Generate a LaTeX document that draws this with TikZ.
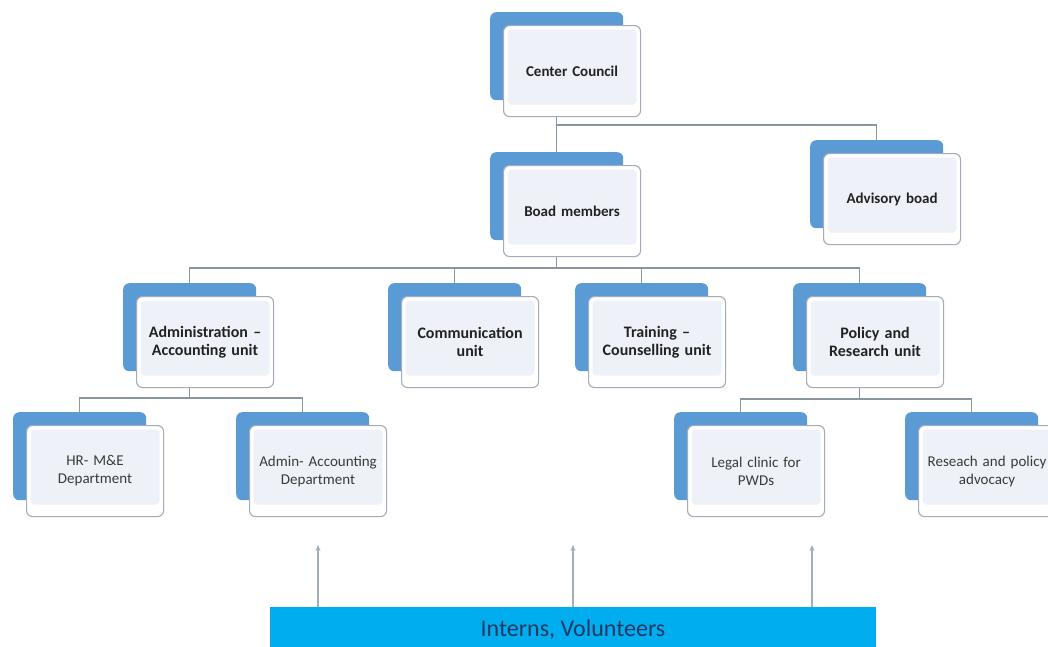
\documentclass[tikz,border=0pt]{standalone}
\usepackage{fontspec}
\setmainfont{Carlito}
\usetikzlibrary{calc,arrows.meta}
\definecolor{backblue}{HTML}{5B9BD5}
\definecolor{frontfill}{HTML}{EEF2F8}
\definecolor{frontedge}{HTML}{A3ACB8}
\definecolor{connline}{HTML}{8A95A2}
\definecolor{arrline}{HTML}{A2AEBD}
\definecolor{barblue}{HTML}{00AEEF}
\definecolor{bartext}{HTML}{1F3864}
\definecolor{boxtext}{HTML}{222222}
\definecolor{lighttext}{HTML}{3A3A3A}
\tikzset{
  backbox/.style={fill=backblue, draw=none, rounded corners=6pt, minimum width=133pt, minimum height=88pt, inner sep=0pt, anchor=north west},
  frontbox/.style={fill=white, draw=frontedge, line width=1.1pt, rounded corners=6pt, minimum width=137pt, minimum height=91pt, inner sep=0pt, anchor=north west, align=center, text width=128pt,
    path picture={\fill[frontfill, rounded corners=4pt] ($(path picture bounding box.south west)+(4pt,12pt)$) rectangle ($(path picture bounding box.north east)+(-4pt,-4pt)$);}},
  lvlone/.style={font=\fontsize{15}{18}\selectfont\bfseries, text=boxtext},
  lvltwo/.style={font=\fontsize{16}{18.5}\selectfont\bfseries, text=boxtext},
  lvlthree/.style={font=\fontsize{15}{18}\selectfont, text=lighttext},
  conn/.style={draw=connline, line width=1.1pt},
  arr/.style={draw=arrline, line width=1.6pt, -{Stealth[length=6pt,width=5pt]}},
  bar/.style={fill=barblue, draw=none, minimum width=606pt, minimum height=45pt, inner sep=0pt, anchor=north west}
}
\newcommand\orgbox[5]{%
  \node[backbox] (#1b) at (#2,#3) {};
  \node[frontbox,#4] (#1) at ($(#2,#3)+(13,13)$) {#5};
}
\begin{document}
\begin{tikzpicture}[x=1pt,y=-1pt]
\clip (0,0) rectangle (1048,646);
\fill[white] (0,0) rectangle (1048,646);
% boxes
\orgbox{cc}{490}{12}{lvlone}{Center Council}
\orgbox{bm}{490}{152}{lvlone}{Boad members}
\orgbox{ab}{810}{140}{lvlone}{Advisory boad}
\orgbox{adm}{123}{283}{lvltwo}{Administration –\\Accounting unit}
\orgbox{com}{388}{283}{lvltwo}{Communication\\unit}
\orgbox{trn}{575}{283}{lvltwo}{Training –\\Counselling unit}
\orgbox{pol}{793}{283}{lvltwo}{Policy and\\Research unit}
\orgbox{hr}{13}{412}{lvlthree}{HR- M\&E\\Department}
\orgbox{aac}{236}{412}{lvlthree}{Admin- Accounting\\Department}
\orgbox{leg}{674}{412}{lvlthree}{Legal clinic for\\PWDs}
\orgbox{res}{905}{412}{lvlthree}{Reseach and policy\\advocacy}
% connectors level 0 -> 1
\draw[conn] (ccb.south |- cc.south) -- (ccb.south |- bmb.north);
\draw[conn] (ccb.south |- 0,125) -| (abb.north);
% board -> units
\draw[conn] (bmb.south |- bm.south) -- (bmb.south |- 0,268);
\draw[conn] (admb.north) -- (admb.north |- 0,268) -- (polb.north |- 0,268) -- (polb.north);
\draw[conn] (comb.north) -- (comb.north |- 0,268);
\draw[conn] (trnb.north) -- (trnb.north |- 0,268);
% admin unit -> departments
\draw[conn] (admb.south |- adm.south) -- (admb.south |- 0,398);
\draw[conn] (hrb.north) -- (hrb.north |- 0,398) -- (aacb.north |- 0,398) -- (aacb.north);
% policy unit -> departments
\draw[conn] (polb.south |- pol.south) -- (polb.south |- 0,399);
\draw[conn] (legb.north) -- (legb.north |- 0,399) -- (resb.north |- 0,399) -- (resb.north);
% interns bar
\node[bar] (bar) at (270,607) {};
\node[font=\fontsize{24}{26}\selectfont, text=bartext, inner sep=0pt] (bartxt) at (573,630) {Interns, Volunteers};
\coordinate (a1) at (318,545);
\coordinate (a2) at (573,545);
\coordinate (a3) at (812,545);
\draw[arr] (a1 |- bar.north) -- (a1);
\draw[arr] (a2 |- bar.north) -- (a2);
\draw[arr] (a3 |- bar.north) -- (a3);
\end{tikzpicture}
\end{document}
